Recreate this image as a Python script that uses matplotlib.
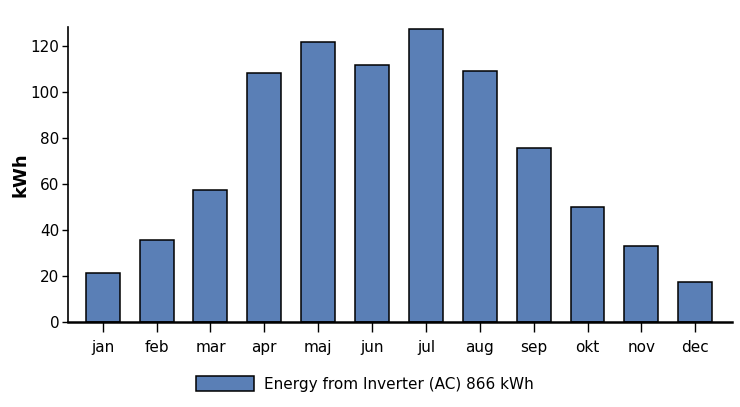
import matplotlib
matplotlib.use('Agg')
import matplotlib.pyplot as plt
from matplotlib import font_manager

months = ['jan', 'feb', 'mar', 'apr', 'maj', 'jun', 'jul', 'aug', 'sep', 'okt', 'nov', 'dec']
energy_kwh = [21.0, 35.5, 57.1, 108.0, 121.5, 111.5, 127.3, 109.0, 75.5, 49.9, 32.9, 17.1]
y_ticks = [0, 20, 40, 60, 80, 100, 120]
legend_label = 'Energy from Inverter (AC) 866 kWh'

# narrow font if it is there, else DejaVu
names = {f.name for f in font_manager.fontManager.ttflist}
if 'Liberation Sans Narrow' in names:
    plt.rcParams['font.family'] = ['Liberation Sans Narrow', 'DejaVu Sans']
    fs = 14
else:
    plt.rcParams['font.family'] = ['DejaVu Sans']
    fs = 11

fig = plt.figure(figsize=(7.4, 4.07), dpi=100)
ax = fig.add_axes([0.0915, 0.2096, 0.8975, 0.7234])

x = range(len(months))
ax.bar(x, energy_kwh, width=0.63, color='#5a7fb6', edgecolor='black',
       linewidth=1.1, label=legend_label)

ax.set_xlim(-0.65, 11.68)
ax.set_ylim(0, 128)
ax.set_xticks(list(x))
ax.set_xticklabels(months, fontsize=fs)
ax.set_yticks(y_ticks)
ax.set_yticklabels([str(t) for t in y_ticks], fontsize=fs)
ax.tick_params(axis='x', length=7, width=1, pad=6)
ax.tick_params(axis='y', length=4, width=1, pad=2)

ax.spines['top'].set_visible(False)
ax.spines['right'].set_visible(False)
ax.spines['left'].set_linewidth(1.2)
ax.spines['bottom'].set_linewidth(1.8)

ax.set_ylabel('kWh', fontsize=13, fontweight='bold', family='DejaVu Sans', labelpad=1)

fig.legend(loc='center', bbox_to_anchor=(0.493, 0.056), frameon=False,
           fontsize=fs, handlelength=3.8, handleheight=1.1, handletextpad=0.6)

fig.savefig('out.png', dpi=100)
